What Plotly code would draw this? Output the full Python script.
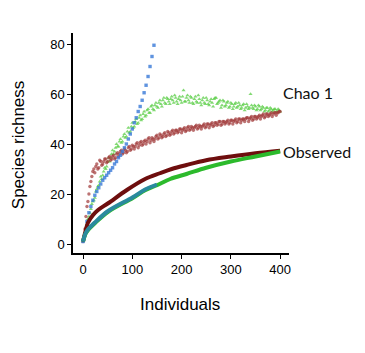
import plotly.graph_objects as go

# ---- data ----
# Chao 1 estimates, sampled every 4 individuals (set A: 0,4,...,400) and in between (set B: 2,6,...,398)
chao_red_a = [1, 6, 15, 20, 25, 29, 28.5, 32, 30.5, 33, 32, 34, 32.5, 34.5, 33.5, 35, 34, 36, 35, 37,
              36, 38, 36.5, 38.5, 37.5, 39.5, 38, 40, 38.5, 40.5, 39.5, 41, 40, 42, 40.5, 42.5, 41, 43,
              42, 44, 42.5, 44, 43, 45, 43.5, 45, 44, 45.5, 44.5, 46, 44.5, 46, 45, 46.5, 45.5, 47,
              45.5, 47, 46, 47.5, 46, 47.5, 46.5, 48, 46.5, 48, 47, 48.5, 47.5, 49, 47.5, 49, 48, 49,
              48, 49.5, 48, 49.5, 48.5, 50, 48.5, 50, 49, 50.5, 49, 50.5, 49.5, 51, 50, 51, 50, 51.5,
              50.5, 52, 51, 52, 51, 52.5, 51.5, 52.5, 53]
chao_red_b = [3, 11, 17, 23, 27, 30, 31, 30, 33.5, 31.5, 33, 34, 33, 35, 34, 35.5, 34.5, 36.5, 36,
              37.5, 36.5, 37.5, 37, 39, 38, 39, 39, 40.5, 39.5, 41, 40, 41.5, 41, 42.5, 41.5, 42, 42,
              43.5, 42.5, 43.5, 43, 44.5, 43.5, 44.5, 44, 45.5, 44.5, 45.5, 45, 46, 45.5, 46.5, 45.5,
              47, 46, 46.5, 46.5, 47.5, 46.5, 47, 47, 48, 47, 48, 47.5, 48.5, 47.5, 48.5, 48, 49, 48,
              49, 48.5, 49.5, 48.5, 49.5, 49, 50, 49, 50, 49.5, 50, 50, 50.5, 50, 51, 50, 51, 50.5,
              51.5, 51, 52, 51, 52, 51.5, 52.5, 52, 52.5, 52.5, 53]
chao_green_a = [1, 4.5, 8, 11, 14, 17, 18.5, 22, 23.5, 27, 27.5, 30.5, 31, 34.5, 34.5, 37.5, 37, 40,
                39, 42, 41, 44, 43, 46.5, 45, 48.5, 47, 50, 48.5, 51.5, 50, 53, 51.5, 54, 52.5, 55.5,
                53.5, 56.5, 54.5, 57.5, 55, 58.5, 56, 58, 56, 59, 56.5, 58.5, 56, 59, 56.5, 61.5, 57,
                59.5, 56.5, 58.5, 56, 59, 56.5, 58, 55.5, 58.5, 56, 57.5, 55.5, 58, 55, 58.5, 56, 57,
                54.5, 57.5, 55, 56.5, 54.5, 56.5, 54, 56, 54.5, 56.5, 54, 55.5, 53.5, 56, 54, 60,
                54.5, 55.5, 53.5, 55.5, 53.5, 55, 53, 54.5, 53, 54.5, 53, 54, 53, 54, 53]
chao_green_b = [2.5, 6.5, 10, 12.5, 16, 17.5, 21, 23, 25, 26, 29, 30, 33, 33, 36, 36, 38.5, 39, 41,
                40.5, 43, 42.5, 45, 44.5, 47, 46.5, 49, 48, 50.5, 49.5, 52, 51, 53.5, 52.5, 55, 54,
                55.5, 55, 56.5, 56, 57.5, 56.5, 58.5, 57, 58, 57.5, 59.5, 57, 58, 57.5, 59, 57, 58.5,
                57.5, 59, 56.5, 58, 57, 59.5, 56.5, 57.5, 56.5, 58.5, 56, 57, 56.5, 58, 58.5, 56.5,
                57.5, 55.5, 57, 55.5, 57, 55, 56, 55, 56.5, 55, 55.5, 54.5, 56, 54.5, 55, 54.5, 55.5,
                54, 55, 54, 55, 54, 54.5, 53.5, 54.5, 53.5, 54, 53.5, 54, 53, 53.5]
chao_blue = [1, 4, 9, 12.5, 15, 17.5, 19.5, 21, 22.5, 24, 25.5, 26.5, 27.5, 28.5, 29.5, 30.5, 32,
             33, 34.5, 35.5, 37, 38.5, 40, 42, 44, 46, 48.5, 50.5, 53, 55, 57.5, 60.5, 63.5, 67,
             71, 75, 79.5]

# Observed richness (rarefaction curves)
obs_red_x = [0, 5, 10, 20, 30, 51, 89, 126, 156, 180, 210, 250, 300, 350, 400]
obs_red = [1, 5, 8.5, 11.5, 13.5, 16.3, 21.6, 26, 28.3, 30, 31.6, 33.5, 35, 36.3, 37.3]
obs_green_x = [0, 5, 10, 24, 51, 101, 126, 150, 177, 210, 250, 300, 350, 400]
obs_green = [1, 4, 5.5, 8.3, 12.9, 18.4, 21.5, 23.5, 26, 28, 30.5, 33, 35, 37]
obs_blue_x = [0, 5, 10, 24, 51, 101, 126, 150]
obs_blue = [1, 4.2, 5.8, 8.6, 13.2, 18.7, 21.8, 23.8]

x_ticks = [0, 100, 200, 300, 400]
y_ticks = [0, 20, 40, 60, 80]

step = 4
xa = [i * step for i in range(len(chao_red_a))]
xb = [2 + i * step for i in range(len(chao_red_b))]
xga = [i * step for i in range(len(chao_green_a))]
xgb = [2 + i * step for i in range(len(chao_green_b))]
xblue = [i * step for i in range(len(chao_blue))]

green_mk = dict(symbol="triangle-up", size=3.6, color="rgba(90,205,70,0.75)", line=dict(width=0))
red_mk = dict(symbol="circle", size=3.4, color="rgba(160,55,55,0.7)", line=dict(width=0))

fig = go.Figure()
fig.add_trace(go.Scatter(x=xga + xgb, y=chao_green_a + chao_green_b, mode="markers", marker=green_mk))
fig.add_trace(go.Scatter(x=xa + xb, y=chao_red_a + chao_red_b, mode="markers", marker=red_mk))
fig.add_trace(go.Scatter(x=xblue, y=chao_blue, mode="markers",
                         marker=dict(symbol="square", size=3.4, color="rgba(55,120,215,0.8)",
                                     line=dict(width=0))))
fig.add_trace(go.Scatter(x=obs_red_x, y=obs_red, mode="lines",
                         line=dict(color="#6e0e0e", width=4, shape="spline")))
fig.add_trace(go.Scatter(x=obs_green_x, y=obs_green, mode="lines",
                         line=dict(color="#2cba2c", width=4, shape="spline")))
fig.add_trace(go.Scatter(x=obs_blue_x, y=obs_blue, mode="lines",
                         line=dict(color="#2a8a9e", width=4, shape="spline")))

fig.add_annotation(x=402, y=60.8, text="Chao 1", showarrow=False, xanchor="left", yanchor="middle",
                   font=dict(family="Lato", size=16, color="#111"))
fig.add_annotation(x=402, y=37.2, text="Observed", showarrow=False, xanchor="left", yanchor="middle",
                   font=dict(family="Lato", size=16, color="#111"))
fig.add_annotation(xref="paper", yref="paper", x=-0.2546, y=0.49, text="Species richness",
                   textangle=-90, showarrow=False, xanchor="center", yanchor="middle",
                   font=dict(family="Liberation Sans", size=17, color="#000"))
fig.add_annotation(xref="paper", yref="paper", x=0.495, y=-0.236, text="Individuals",
                   showarrow=False, xanchor="center", yanchor="middle",
                   font=dict(family="Liberation Sans", size=17, color="#000"))

axis_common = dict(showgrid=False, zeroline=False, showline=True, linecolor="#000", linewidth=1.5,
                   ticks="outside", ticklen=4, tickwidth=1.2, tickcolor="#000",
                   tickfont=dict(family="Liberation Sans", size=13, color="#000"))
fig.update_xaxes(range=[-20.3, 418], tickvals=x_ticks, **axis_common)
fig.update_yaxes(range=[-3.6, 84.4], tickvals=y_ticks, **axis_common)
fig.update_layout(width=365, height=353, margin=dict(l=73, r=76, t=33, b=100),
                  paper_bgcolor="white", plot_bgcolor="white", showlegend=False)
fig.write_html("out.html")
